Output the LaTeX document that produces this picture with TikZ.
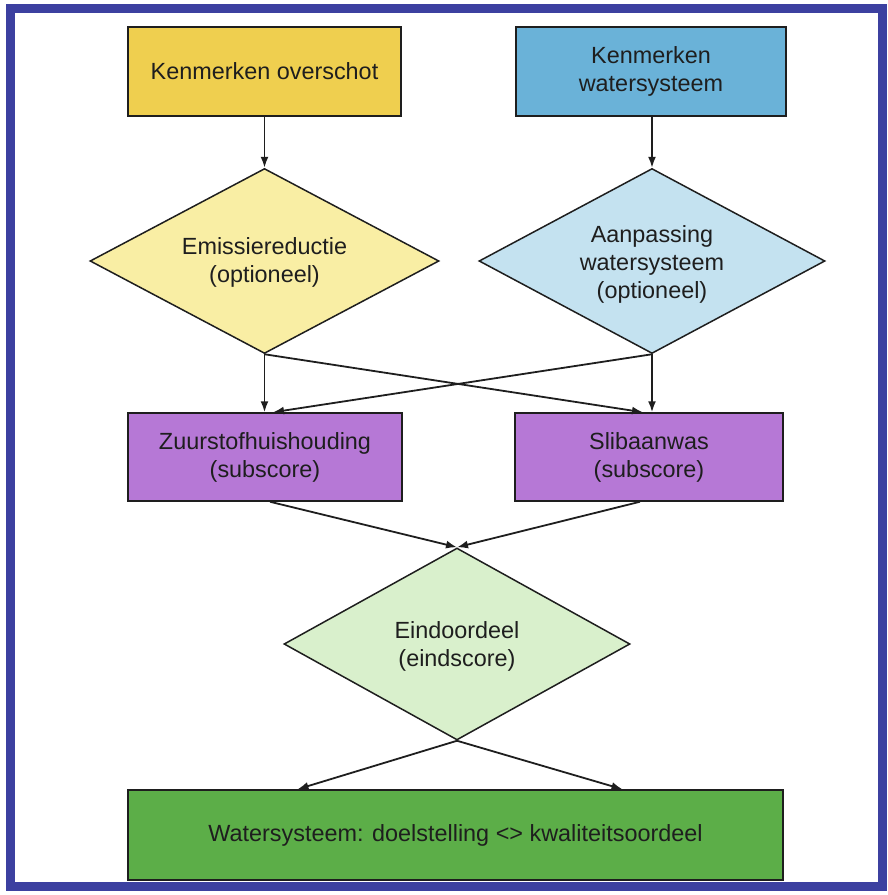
\documentclass[tikz,border=0pt]{standalone}
\usepackage{fontspec}
\setmainfont{Liberation Sans}
\usetikzlibrary{shapes.geometric,arrows.meta}
\definecolor{frameblue}{RGB}{60,64,160}
\definecolor{cyellow}{RGB}{239,207,79}
\definecolor{cblue}{RGB}{106,178,216}
\definecolor{dyellow}{RGB}{249,238,164}
\definecolor{dblue}{RGB}{196,226,240}
\definecolor{cpurple}{RGB}{182,120,214}
\definecolor{dgreen}{RGB}{217,240,204}
\definecolor{cgreen}{RGB}{92,174,72}
\definecolor{ink}{RGB}{30,30,30}
\begin{document}
\begin{tikzpicture}[x=1pt,y=-1pt,
  every node/.style={font=\fontsize{23.4}{28}\selectfont, text=ink, align=center},
  boxnode/.style={draw=ink, line width=1.5pt, rectangle, inner sep=0pt},
  decnode/.style={draw=ink, line width=1.5pt, diamond, inner sep=0pt},
  conn/.style={draw=ink, line width=1.8pt, -{Latex[length=11pt,width=8pt]}}
]
\useasboundingbox (0,0) rectangle (888,895);
\draw[frameblue, line width=9pt] (10,8) rectangle (882,886);

\node[boxnode, fill=cyellow, minimum width=273pt, minimum height=89pt] (ko) at (264.5,71.5) {Kenmerken overschot};
\node[boxnode, fill=cblue, minimum width=270pt, minimum height=89pt] (kw) at (651,71.5) {Kenmerken\\watersysteem};

\node[decnode, fill=dyellow, minimum width=349pt, minimum height=185pt, aspect=1.89] (ed) at (264.5,261) {};
\node at (264.5,262) {Emissiereductie\\(optioneel)};
\node[decnode, fill=dblue, minimum width=346pt, minimum height=185pt, aspect=1.87] (ad) at (652,261) {};
\node at (652,264) {Aanpassing\\watersysteem\\(optioneel)};

\node[boxnode, fill=cpurple, minimum width=274pt, minimum height=88pt] (zu) at (265,457) {Zuurstofhuishouding\\(subscore)};
\node[boxnode, fill=cpurple, minimum width=268pt, minimum height=88pt] (sl) at (649,457) {Slibaanwas\\(subscore)};

\node[decnode, fill=dgreen, minimum width=346pt, minimum height=192pt, aspect=1.8] (eo) at (457,644) {};
\node at (457,646) {Eindoordeel\\(eindscore)};

\node[boxnode, fill=cgreen, minimum width=655pt, minimum height=90pt] (gr) at (455.5,835) {Watersysteem: doelstelling <> kwaliteitsoordeel};

\draw[conn] (ko.south) -- (ed.north);
\draw[conn] (kw.south -| ad.north) -- (ad.north);
\draw[conn] (ed.south) -- (ed.south |- zu.north);
\draw[conn] (ad.south) -- (ad.south |- sl.north);
\draw[conn] (ed.south) -- ([xshift=-6pt]sl.north);
\draw[conn] (ad.south) -- ([xshift=8pt]zu.north);
\draw[conn] ([xshift=5pt]zu.south) -- (eo.north);
\draw[conn] ([xshift=-9pt]sl.south) -- (eo.north);
\draw[conn] (eo.south) -- ([xshift=-158pt]gr.north);
\draw[conn] (eo.south) -- ([xshift=167pt]gr.north);
\end{tikzpicture}
\end{document}
